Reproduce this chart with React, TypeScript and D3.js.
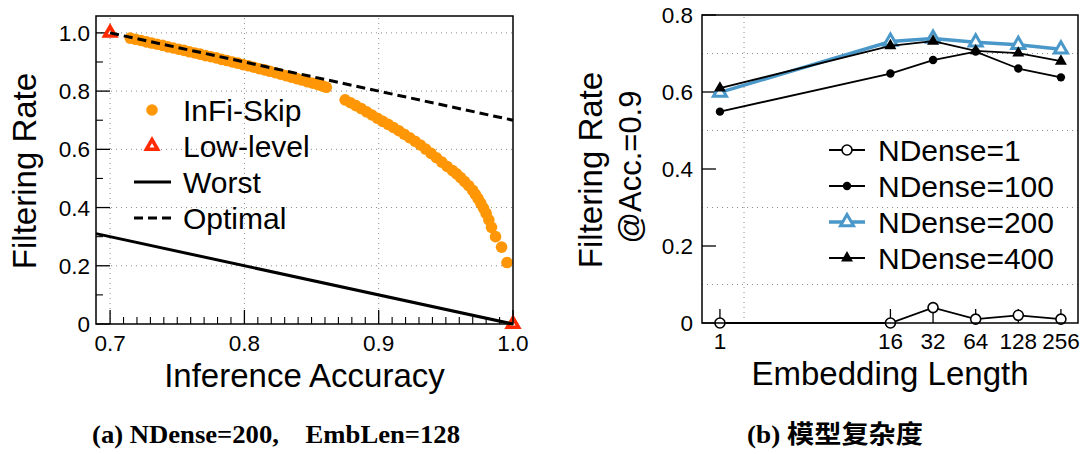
import React from "react";
import * as d3 from "d3";

const W = 1083;
const H = 454;

// ---------- Panel (a) data ----------
const skipAcc = [
  0.715, 0.719, 0.723, 0.727, 0.731, 0.735, 0.739, 0.743, 0.747, 0.751, 0.755, 0.759, 0.763,
  0.767, 0.771, 0.775, 0.779, 0.783, 0.787, 0.791, 0.795, 0.799, 0.803, 0.807, 0.811, 0.815,
  0.819, 0.823, 0.827, 0.831, 0.835, 0.839, 0.843, 0.847, 0.851, 0.855, 0.858, 0.861,
  0.875, 0.879, 0.883, 0.887, 0.891, 0.895, 0.899, 0.903, 0.907, 0.911, 0.915, 0.919, 0.923,
  0.927, 0.931, 0.935, 0.939, 0.943, 0.947, 0.951, 0.955, 0.958, 0.961, 0.964, 0.967, 0.97,
  0.972, 0.974, 0.976, 0.978, 0.98, 0.982, 0.984, 0.987, 0.9915, 0.9955,
];
const skipRate = [
  0.982, 0.978, 0.974, 0.969, 0.965, 0.961, 0.957, 0.952, 0.948, 0.944, 0.94, 0.935, 0.931,
  0.927, 0.922, 0.918, 0.914, 0.909, 0.905, 0.9, 0.896, 0.891, 0.887, 0.882, 0.877, 0.873,
  0.868, 0.863, 0.858, 0.853, 0.848, 0.843, 0.838, 0.832, 0.827, 0.822, 0.818, 0.813,
  0.77, 0.76, 0.75, 0.74, 0.729, 0.718, 0.707, 0.696, 0.686, 0.675, 0.664, 0.652, 0.64,
  0.628, 0.615, 0.601, 0.586, 0.571, 0.556, 0.541, 0.527, 0.516, 0.503, 0.489, 0.475, 0.459,
  0.445, 0.431, 0.415, 0.398, 0.38, 0.358, 0.332, 0.3, 0.264, 0.211,
];
const lowAcc = [0.7, 1.0];
const lowRate = [1.0, 0.0];
const worstAcc = [0.6895, 1.0];
const worstRate = [0.3105, 0.0];
const optAcc = [0.7, 1.0];
const optRate = [1.0, 0.7];
const xTicksA = [0.7, 0.8, 0.9, 1.0];
const xTickLabelsA = ["0.7", "0.8", "0.9", "1.0"];
const yTicksA = [0, 0.2, 0.4, 0.6, 0.8, 1.0];
const yTickLabelsA = ["0", "0.2", "0.4", "0.6", "0.8", "1.0"];
const yMinorA = [0.1, 0.3, 0.5, 0.7, 0.9];
const xGridA = [0.7, 0.8, 0.9];
const legendA = ["InFi-Skip", "Low-level", "Worst", "Optimal"];

// ---------- Panel (b) data ----------
const embLen = [1, 16, 32, 64, 128, 256];
const embLabels = ["1", "16", "32", "64", "128", "256"];
const nd1 = [0, 0, 0.04, 0.01, 0.02, 0.01];
const nd100 = [0.549, 0.648, 0.683, 0.705, 0.661, 0.638];
const nd200 = [0.599, 0.731, 0.739, 0.729, 0.723, 0.711];
const nd400 = [0.61, 0.72, 0.732, 0.707, 0.701, 0.68];
const seriesNames = ["NDense=1", "NDense=100", "NDense=200", "NDense=400"];
const yTicksB = [0, 0.2, 0.4, 0.6, 0.8];
const yTickLabelsB = ["0", "0.2", "0.4", "0.6", "0.8"];
const yGridB = [0.1, 0.3, 0.5, 0.7];
const xGridB = [1.48];

const captionA = "(a) NDense=200,\u00A0\u00A0\u00A0\u00A0EmbLen=128";
const captionB = "(b) 模型复杂度";

const SANS = "'Liberation Sans', Arial, Helvetica, sans-serif";
const SERIF = "'Liberation Serif', 'Times New Roman', 'Noto Sans CJK SC', serif";
const ORANGE = "#FF9605";
const RED = "#FF2A00";
const BLUE = "#4A98C9";
const GRID = "#8a8a8a";
const TICK_FS = 22.5;
const TITLE_FS = 33;
const LEG_FS = 30;

const tri = (side: number) => d3.symbol(d3.symbolTriangle, (Math.sqrt(3) / 4) * side * side)() as string;

export default function App() {
  // Panel (a) scales
  const xA = d3.scaleLinear().domain([0.6895, 1.0]).range([96, 513]);
  const yA = d3.scaleLinear().domain([0, 1.058]).range([324, 16]);
  const worstPath = d3
    .line<number>()
    .x((d) => xA(d))
    .y((_, i) => yA(worstRate[i]))(worstAcc) as string;
  const optPath = d3
    .line<number>()
    .x((d) => xA(d))
    .y((_, i) => yA(optRate[i]))(optAcc) as string;
  const xMinorA = d3.range(70, 100).filter((v) => v % 10 !== 0).map((v) => v / 100);

  // Panel (b) scales
  const xB = d3.scaleLog().base(2).domain([0.747, 338]).range([702, 1078]);
  const yB = d3.scaleLinear().domain([0, 0.8]).range([323, 15]);
  const mkPath = (vals: number[]) =>
    d3
      .line<number>()
      .x((d) => xB(d))
      .y((_, i) => yB(vals[i]))(embLen) as string;

  const [ax0, ax1] = xA.range();
  const [ay0, ay1] = yA.range();
  const [bx0, bx1] = xB.range();
  const [by0, by1] = yB.range();

  const legAy = [110, 146, 182, 218];
  const legBy = [150, 186, 222, 258];

  const markerB = (k: number, cx: number, cy: number, key: string) => {
    if (k === 0)
      return <circle key={key} cx={cx} cy={cy} r={5} fill="#fff" stroke="#000" strokeWidth={1.6} />;
    if (k === 1) return <circle key={key} cx={cx} cy={cy} r={4.2} fill="#000" />;
    if (k === 2)
      return (
        <path key={key} d={tri(13)} transform={`translate(${cx},${cy})`} fill="#fff" stroke={BLUE} strokeWidth={3} />
      );
    return <path key={key} d={tri(12)} transform={`translate(${cx},${cy})`} fill="#000" />;
  };
  const seriesB = [nd1, nd100, nd200, nd400];

  const lowMarker = (cx: number, cy: number, key: string) => (
    <path key={key} d={tri(11)} transform={`translate(${cx},${cy})`} fill="#fff" stroke={RED} strokeWidth={3.6} />
  );

  return (
    <svg
      width={W}
      height={H}
      viewBox={`0 0 ${W} ${H}`}
      style={{ position: "absolute", left: 0, top: 0, background: "#fff" }}
    >
      <rect x={0} y={0} width={W} height={H} fill="#fff" />
      {/* ================= Panel (a) ================= */}
      <g>
        {yTicksA.slice(1).map((t) => (
          <line key={"gy" + t} x1={ax0} x2={ax1} y1={yA(t)} y2={yA(t)} stroke={GRID} strokeWidth={1} strokeDasharray="1,4" />
        ))}
        {xGridA.map((t) => (
          <line key={"gx" + t} x1={xA(t)} x2={xA(t)} y1={ay0} y2={ay1} stroke={GRID} strokeWidth={1} strokeDasharray="1,4" />
        ))}
        {xTicksA.map((t) => (
          <line key={"tx" + t} x1={xA(t)} x2={xA(t)} y1={ay0} y2={ay0 - 14} stroke="#000" strokeWidth={1.3} />
        ))}
        {xMinorA.map((t) => (
          <line key={"mx" + t} x1={xA(t)} x2={xA(t)} y1={ay0} y2={ay0 - 7} stroke="#000" strokeWidth={1.1} />
        ))}
        {yTicksA.map((t) => (
          <line key={"ty" + t} x1={ax0} x2={ax0 + 14} y1={yA(t)} y2={yA(t)} stroke="#000" strokeWidth={1.3} />
        ))}
        {yMinorA.map((t) => (
          <line key={"my" + t} x1={ax0} x2={ax0 + 7} y1={yA(t)} y2={yA(t)} stroke="#000" strokeWidth={1.1} />
        ))}
        {skipAcc.map((a, i) => (
          <circle key={"s" + i} cx={xA(a)} cy={yA(skipRate[i])} r={5.8} fill={ORANGE} />
        ))}
        {lowAcc.map((a, i) => lowMarker(xA(a), yA(lowRate[i]), "l" + i))}
        <path d={worstPath} fill="none" stroke="#000" strokeWidth={3} />
        <path d={optPath} fill="none" stroke="#000" strokeWidth={3} strokeDasharray="9,5" />
        <rect x={ax0} y={ay1} width={ax1 - ax0} height={ay0 - ay1} fill="none" stroke="#000" strokeWidth={1.5} />
        {xTicksA.map((t, i) => (
          <text key={"lx" + t} x={xA(t)} y={351} textAnchor="middle" fontFamily={SANS} fontSize={TICK_FS}>
            {xTickLabelsA[i]}
          </text>
        ))}
        {yTicksA.map((t, i) => (
          <text key={"ly" + t} x={90} y={yA(t) + 8} textAnchor="end" fontFamily={SANS} fontSize={TICK_FS}>
            {yTickLabelsA[i]}
          </text>
        ))}
        <text x={(ax0 + ax1) / 2} y={387} textAnchor="middle" fontFamily={SANS} fontSize={TITLE_FS}>
          Inference Accuracy
        </text>
        <text transform="translate(36,171) rotate(-90)" textAnchor="middle" fontFamily={SANS} fontSize={TITLE_FS}>
          Filtering Rate
        </text>
        <circle cx={152} cy={legAy[0]} r={5.8} fill={ORANGE} />
        {lowMarker(152, legAy[1], "leglow")}
        <line x1={134} x2={171} y1={legAy[2]} y2={legAy[2]} stroke="#000" strokeWidth={3} />
        <line x1={134} x2={171} y1={legAy[3]} y2={legAy[3]} stroke="#000" strokeWidth={3} strokeDasharray="9,5" />
        {legendA.map((n, i) => (
          <text key={n} x={183} y={legAy[i] + 10.5} fontFamily={SANS} fontSize={LEG_FS}>
            {n}
          </text>
        ))}
      </g>

      {/* ================= Panel (b) ================= */}
      <g>
        {yGridB.map((t) => (
          <line key={"gb" + t} x1={bx0} x2={bx1} y1={yB(t)} y2={yB(t)} stroke={GRID} strokeWidth={1} strokeDasharray="1,4" />
        ))}
        {xGridB.map((t) => (
          <line key={"gbx" + t} x1={xB(t)} x2={xB(t)} y1={by0} y2={by1} stroke={GRID} strokeWidth={1} strokeDasharray="1,4" />
        ))}
        {yTicksB.map((t) => (
          <line key={"tyb" + t} x1={bx0} x2={bx0 + 14} y1={yB(t)} y2={yB(t)} stroke="#000" strokeWidth={1.3} />
        ))}
        {embLen.map((t) => (
          <line key={"txb" + t} x1={xB(t)} x2={xB(t)} y1={by0} y2={by0 - 14} stroke="#000" strokeWidth={1.3} />
        ))}
        {seriesB.map((vals, k) => (
          <g key={"ser" + k}>
            <path d={mkPath(vals)} fill="none" stroke={k === 2 ? BLUE : "#000"} strokeWidth={k === 2 ? 3.5 : 1.8} />
            {vals.map((v, i) => markerB(k, xB(embLen[i]), yB(v), "m" + k + "-" + i))}
          </g>
        ))}
        <rect x={bx0} y={by1} width={bx1 - bx0} height={by0 - by1} fill="none" stroke="#000" strokeWidth={1.5} />
        {embLen.map((t, i) => (
          <text key={"lxb" + t} x={xB(t)} y={349} textAnchor="middle" fontFamily={SANS} fontSize={TICK_FS}>
            {embLabels[i]}
          </text>
        ))}
        {yTicksB.map((t, i) => (
          <text key={"lyb" + t} x={693} y={yB(t) + 8} textAnchor="end" fontFamily={SANS} fontSize={TICK_FS}>
            {yTickLabelsB[i]}
          </text>
        ))}
        <text x={(bx0 + bx1) / 2} y={385} textAnchor="middle" fontFamily={SANS} fontSize={TITLE_FS}>
          Embedding Length
        </text>
        <text transform="translate(602,170) rotate(-90)" textAnchor="middle" fontFamily={SANS} fontSize={TITLE_FS}>
          Filtering Rate
        </text>
        <text transform="translate(641,167) rotate(-90)" textAnchor="middle" fontFamily={SANS} fontSize={31}>
          @Acc.=0.9
        </text>
        {seriesNames.map((n, k) => (
          <g key={"lg" + k}>
            <line x1={829} x2={865} y1={legBy[k]} y2={legBy[k]} stroke={k === 2 ? BLUE : "#000"} strokeWidth={k === 2 ? 3.5 : 1.8} />
            {markerB(k, 847, legBy[k], "lm" + k)}
            <text x={878} y={legBy[k] + 10.5} fontFamily={SANS} fontSize={LEG_FS}>
              {n}
            </text>
          </g>
        ))}
      </g>

      {/* captions */}
      <text x={92} y={443} fontFamily={SERIF} fontWeight="bold" fontSize={25} textLength={368} lengthAdjust="spacingAndGlyphs">
        {captionA}
      </text>
      <text x={747} y={443} fontFamily={SERIF} fontWeight="bold" fontSize={25} textLength={176} lengthAdjust="spacingAndGlyphs">
        {captionB}
      </text>
    </svg>
  );
}
